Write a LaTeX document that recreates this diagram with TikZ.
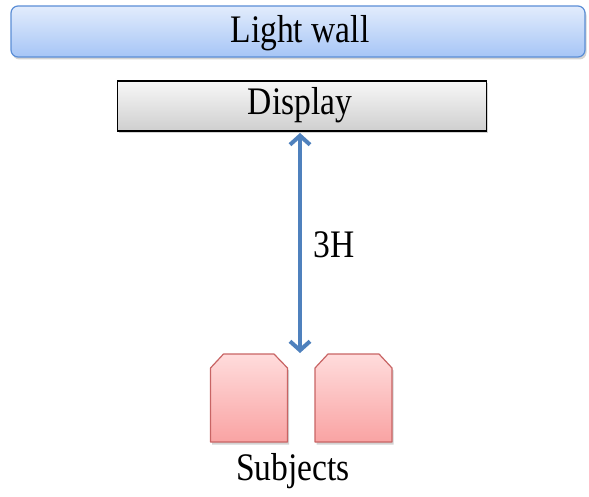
\documentclass[tikz,border=0pt]{standalone}
\usepackage{fontspec}
\setmainfont[FakeStretch=0.86]{Liberation Serif}
\usetikzlibrary{arrows.meta,shadows}
\definecolor{wallTop}{HTML}{E2ECFC}
\definecolor{wallBot}{HTML}{A6C5F6}
\definecolor{wallLine}{HTML}{5B8ED6}
\definecolor{dispTop}{HTML}{F7F7F7}
\definecolor{dispBot}{HTML}{CFCFCF}
\definecolor{subjTop}{HTML}{FFDCDC}
\definecolor{subjBot}{HTML}{F9A3A3}
\definecolor{subjLine}{HTML}{C86464}
\definecolor{arrBlue}{HTML}{4F81BD}
\tikzset{
  bigtext/.style={font=\fontsize{39}{42}\selectfont, text=black},
  shadowed/.style={drop shadow={opacity=0.35, shadow xshift=1.5pt, shadow yshift=-2.5pt}},
  wallbox/.style={draw=wallLine, line width=1.2pt, rounded corners=7pt, top color=wallTop, bottom color=wallBot, shadowed, minimum width=574pt, minimum height=51pt, inner sep=0pt},
  dispbox/.style={draw=black, line width=1.2pt, top color=dispTop, bottom color=dispBot, shadowed, minimum width=369pt, minimum height=50pt, inner sep=0pt},
  subjshape/.style={draw=subjLine, line width=1.2pt, line join=round, top color=subjTop, bottom color=subjBot, shadowed},
  distarrow/.style={draw=arrBlue, line width=4pt, {Straight Barb[length=9pt,width=20pt]}-{Straight Barb[length=9pt,width=20pt]}}
}
\begin{document}
\begin{tikzpicture}[x=1pt,y=-1pt]
\useasboundingbox (0,0) rectangle (589,497);
\node[wallbox] (wall) at (298,31.5) {};
\node[bigtext] (walltext) at (300,33) {Light wall};
\node[dispbox] (display) at (302,106) {};
\node[bigtext] (disptext) at (300,105) {Display};
\path[subjshape] (210.5,442) -- (210.5,368) -- (223.5,354) -- (274,354) -- (287.5,368) -- (287.5,442) -- cycle;
\path[subjshape] (315,442) -- (315,368) -- (328,354) -- (379,354) -- (392,368) -- (392,442) -- cycle;
\coordinate (subjL) at (249,398);
\coordinate (subjR) at (353.5,398);
\node[bigtext] (subjtext) at (293,471) {Subjects};
\coordinate (atop) at (300,133);
\coordinate (abot) at (300,353);
\draw[distarrow] (atop) -- (abot);
\node[bigtext] (label) at (334,245) {3H};
\end{tikzpicture}
\end{document}
